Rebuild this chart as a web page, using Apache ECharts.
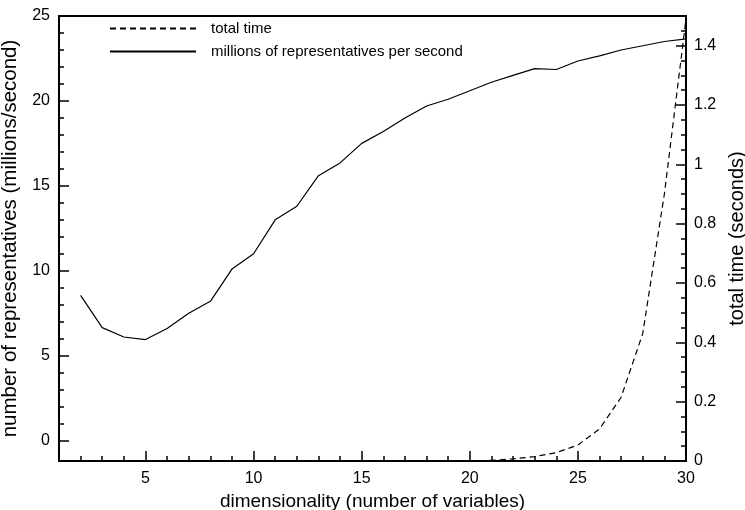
<!DOCTYPE html>
<html>
<head>
<meta charset="utf-8">
<script src="https://cdn.jsdelivr.net/npm/echarts@6/dist/echarts.min.js"></script>
<style>
  html, body { margin: 0; padding: 0; background: #fff; }
  #chart { width: 745px; height: 510px; }
</style>
</head>
<body>
<div id="chart"></div>
<script>
// dimensionality (number of variables)
const dims = [2, 3, 4, 5, 6, 7, 8, 9, 10, 11, 12, 13, 14, 15, 16, 17, 18, 19, 20, 21, 22, 23, 24, 25, 26, 27, 28, 29, 30];
// millions of representatives per second
const ratePerSec = [8.55, 6.65, 6.1, 5.95, 6.6, 7.5, 8.2, 10.1, 11.0, 13.0, 13.8, 15.6, 16.35, 17.5, 18.2, 19.0, 19.7, 20.1, 20.6, 21.1, 21.5, 21.9, 21.85, 22.35, 22.65, 23.0, 23.25, 23.5, 23.65];
// total time (seconds)
const timeDims = [20, 21, 22, 23, 24, 25, 26, 27, 28, 29, 30];
const totalTime = [0.0, 0.002, 0.007, 0.015, 0.028, 0.054, 0.108, 0.215, 0.43, 0.9, 1.49];

const xMajor = [5, 10, 15, 20, 25, 30];
const xMinor = [2, 3, 4, 6, 7, 8, 9, 11, 12, 13, 14, 16, 17, 18, 19, 21, 22, 23, 24, 26, 27, 28, 29];
const leftMajor = [0, 5, 10, 15, 20, 25];
const leftMinor = [1, 2, 3, 4, 6, 7, 8, 9, 11, 12, 13, 14, 16, 17, 18, 19, 21, 22, 23, 24];
const rightMajor = [0, 0.2, 0.4, 0.6, 0.8, 1, 1.2, 1.4];
const rightMinor = [0.05, 0.1, 0.15, 0.25, 0.3, 0.35, 0.45, 0.5, 0.55, 0.65, 0.7, 0.75, 0.85, 0.9, 0.95, 1.05, 1.1, 1.15, 1.25, 1.3, 1.35, 1.45];

const font = 'Liberation Sans, Arial, Helvetica, sans-serif';
const black = '#000';

const chart = echarts.init(document.getElementById('chart'));

const labelStyle = { color: black, fontFamily: font, fontSize: 16 };
const nameStyle = { color: black, fontFamily: font, fontSize: 20 };

function tickAxis(extra, ticks, len) {
  return Object.assign({
    type: 'value',
    axisLine: { show: false, onZero: false },
    axisLabel: { show: false },
    splitLine: { show: false },
    axisTick: { show: true, inside: true, length: len, customValues: ticks, lineStyle: { color: black, width: 1.5 } }
  }, extra);
}

chart.setOption({
  animation: false,
  backgroundColor: '#fff',
  grid: {
    left: 59, right: 59, top: 16, bottom: 49,
    containLabel: false, outerBoundsMode: 'none',
    show: true, borderColor: black, borderWidth: 2, backgroundColor: 'transparent'
  },
  legend: {
    orient: 'vertical',
    left: 104, top: 16,
    itemWidth: 86, itemHeight: 14, itemGap: 8,
    itemStyle: { opacity: 0 },
    textStyle: { color: black, fontFamily: font, fontSize: 15, padding: [0, 0, 0, 10] },
    data: ['total time', 'millions of representatives per second']
  },
  xAxis: [
    {
      type: 'value', min: 1, max: 30,
      name: 'dimensionality (number of variables)',
      nameLocation: 'middle', nameGap: 28,
      nameTextStyle: Object.assign({}, nameStyle, { fontSize: 19 }),
      axisLine: { show: true, onZero: false, lineStyle: { color: black, width: 2 } },
      axisTick: { show: true, inside: true, length: 10, customValues: xMajor, lineStyle: { color: black, width: 1.5 } },
      axisLabel: Object.assign({ margin: 10, customValues: xMajor }, labelStyle),
      splitLine: { show: false }
    },
    tickAxis({ min: 1, max: 30, position: 'bottom' }, xMinor, 5)
  ],
  yAxis: [
    {
      type: 'value', min: -1.2, max: 25, position: 'left',
      name: 'number of representatives (millions/second)',
      nameLocation: 'middle', nameGap: 29,
      nameTextStyle: Object.assign({}, nameStyle, { fontSize: 20.5 }),
      axisLine: { show: true, onZero: false, lineStyle: { color: black, width: 2 } },
      axisTick: { show: true, inside: true, length: 10, customValues: leftMajor, lineStyle: { color: black, width: 1.5 } },
      axisLabel: Object.assign({ margin: 9, customValues: leftMajor }, labelStyle),
      splitLine: { show: false }
    },
    tickAxis({ min: -1.2, max: 25, position: 'left' }, leftMinor, 5),
    {
      type: 'value', min: 0, max: 1.5, position: 'right',
      name: 'total time (seconds)',
      nameLocation: 'middle', nameGap: 40,
      nameTextStyle: nameStyle,
      axisLine: { show: true, onZero: false, lineStyle: { color: black, width: 2 } },
      axisTick: { show: true, inside: true, length: 10, customValues: rightMajor, lineStyle: { color: black, width: 1.5 } },
      axisLabel: Object.assign({ margin: 8, customValues: rightMajor }, labelStyle),
      splitLine: { show: false }
    },
    tickAxis({ min: 0, max: 1.5, position: 'right' }, rightMinor, 5)
  ],
  series: [
    {
      name: 'total time',
      type: 'line',
      xAxisIndex: 0, yAxisIndex: 2,
      symbol: 'none',
      lineStyle: { color: black, width: 1.2, type: [6, 4] },
      itemStyle: { color: black },
      data: timeDims.map((d, i) => [d, totalTime[i]])
    },
    {
      name: 'millions of representatives per second',
      type: 'line',
      xAxisIndex: 0, yAxisIndex: 0,
      symbol: 'none',
      lineStyle: { color: black, width: 1.2 },
      itemStyle: { color: black },
      data: dims.map((d, i) => [d, ratePerSec[i]])
    }
  ]
});
</script>
</body>
</html>
